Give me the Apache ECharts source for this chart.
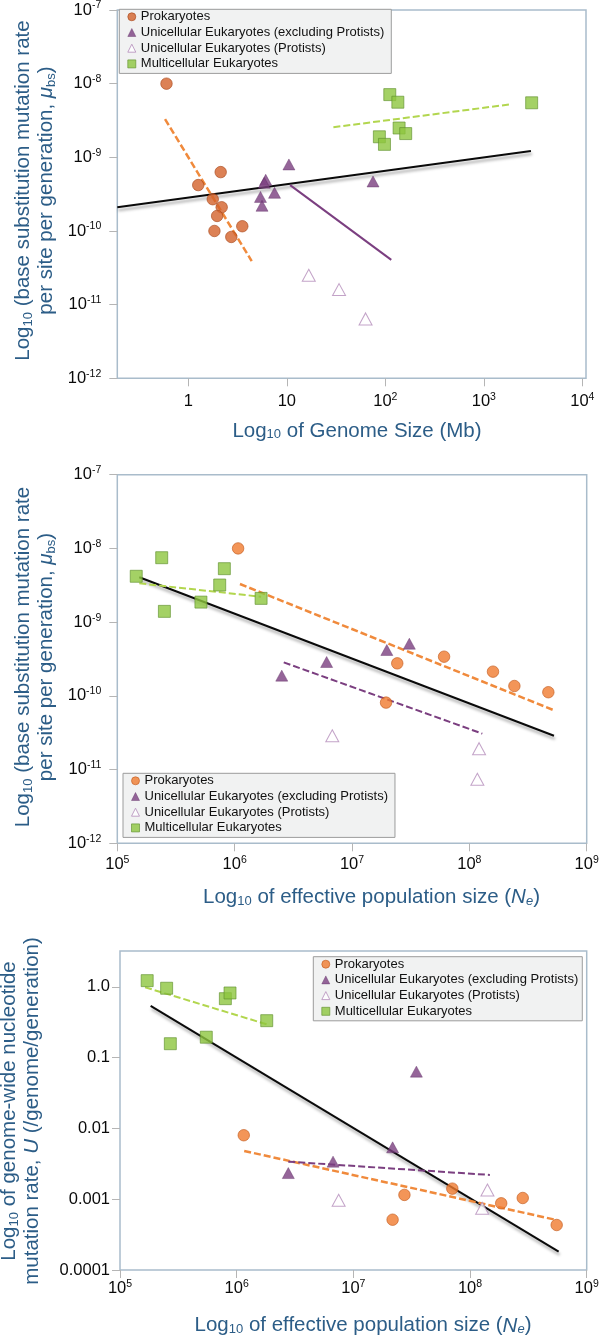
<!DOCTYPE html>
<html><head><meta charset="utf-8">
<script src="https://cdn.jsdelivr.net/npm/echarts@6/dist/echarts.min.js"></script>
<style>html,body{margin:0;padding:0;background:#fff}#c{width:604px;height:1336px}</style>
</head><body><div id="c"></div>
<script>
const seriesNames = ['Prokaryotes','Unicellular Eukaryotes (excluding Protists)','Unicellular Eukaryotes (Protists)','Multicellular Eukaryotes'];

// Panel 1: genome size (Mb) vs base substitution mutation rate
const p1Prok  = [[0.60,1.0e-8],[1.26,4.2e-10],[2.13,6.3e-10],[1.77,2.7e-10],[2.18,2.1e-10],[1.96,1.6e-10],[1.84,1.0e-10],[2.73,8.3e-11],[3.53,1.16e-10]];
const p1Uni   = [[10.5,8.0e-10],[6.1,4.95e-10],[5.9,4.5e-10],[7.5,3.3e-10],[5.4,2.9e-10],[5.6,2.2e-10],[75,4.7e-10]];
const p1Prot  = [[16.7,2.5e-11],[33.9,1.6e-11],[63,6.4e-12]];
const p1Multi = [[111,7.1e-9],[134,5.6e-9],[3060,5.5e-9],[138,2.5e-9],[161,2.1e-9],[87,1.9e-9],[98,1.5e-9]];
const p1FitAll   = [[0.19,2.1e-10],[3010,1.22e-9]];
const p1FitProk  = [[0.58,3.3e-9],[4.4,3.9e-11]];
const p1FitUni   = [[10.8,4.2e-10],[115,4.05e-11]];
const p1FitMulti = [[29.7,2.56e-9],[1880,5.25e-9]];

// Panel 2: effective population size vs base substitution mutation rate
const p2Prok  = [[1.07e6,1.0e-8],[2.43e7,2.76e-10],[6.09e7,3.4e-10],[1.95e7,8.1e-11],[1.59e8,2.13e-10],[2.42e8,1.36e-10],[4.71e8,1.12e-10]];
const p2Uni   = [[2.52e6,1.88e-10],[6.08e6,2.88e-10],[1.98e7,4.19e-10],[3.08e7,5.1e-10]];
const p2Prot  = [[6.79e6,2.88e-11],[1.21e8,1.92e-11],[1.17e8,7.4e-12]];
const p2Multi = [[1.45e5,4.19e-9],[2.39e5,7.48e-9],[2.52e5,1.4e-9],[5.16e5,1.87e-9],[7.46e5,3.19e-9],[8.17e5,5.31e-9],[1.68e6,2.1e-9]];
const p2FitAll   = [[1.54e5,4.06e-9],[5.26e8,2.88e-11]];
const p2FitProk  = [[1.11e6,3.29e-9],[5.19e8,6.43e-11]];
const p2FitUni   = [[2.62e6,2.85e-10],[1.29e8,3.07e-11]];
const p2FitMulti = [[1.54e5,3.36e-9],[1.68e6,2.21e-9]];

// Panel 3: effective population size vs genome-wide mutation rate U
const p3Prok  = [[1.15e6,0.0080],[2.74e7,0.00115],[2.17e7,0.000513],[7.05e7,0.00141],[1.85e8,0.000875],[2.83e8,0.00104],[5.53e8,0.000432]];
const p3Uni   = [[2.77e6,0.00234],[6.70e6,0.00339],[2.17e7,0.0054],[3.47e7,0.0633]];
const p3Prot  = [[7.48e6,0.000966],[1.41e8,0.00135],[1.27e8,0.000743]];
const p3Multi = [[1.71e5,1.22],[2.51e5,0.953],[2.70e5,0.157],[5.49e5,0.194],[8.0e5,0.679],[8.77e5,0.817],[1.81e6,0.332]];
const p3FitAll   = [[1.83e5,0.536],[5.75e8,0.000182]];
const p3FitProk  = [[1.16e6,0.0048],[5.53e8,0.000508]];
const p3FitUni   = [[2.77e6,0.00339],[1.48e8,0.0022]];
const p3FitMulti = [[1.64e5,0.984],[1.81e6,0.295]];

// Tick values / labels
const p1XTicks = [1,10,100,1000,10000];
const muTicks  = [1e-12,1e-11,1e-10,1e-9,1e-8,1e-7];
const neTicks  = [1e5,1e6,1e7,1e8,1e9];
const uTicks   = [0.0001,0.001,0.01,0.1,1];
const uTickLabels = ['0.0001','0.001','0.01','0.1','1.0'];

// Axis titles (rich text)
const p1XTitle = '{n|Log}{sub|10}{n| of Genome Size (Mb)}';
const muTitle  = '{n|Log}{sub|10}{n| (base substitution mutation rate}\n{n|per site per generation, }{i|μ}{sub|bs}{n|)}';
const neTitle  = '{n|Log}{sub|10}{n| of effective population size (}{i|N}{isub|e}{n|)}';
const uTitle   = '{n|Log}{sub|10}{n| of genome-wide nucleotide}\n{n|mutation rate, }{i|U}{n| (/genome/generation)}';

const FONT = '"Liberation Sans", Arial, Helvetica, sans-serif';
const TITLE = '#2c5d87';
const FRAME = '#a9bccb';
const TICKC = '#b5b5b5';

function powLabel(v){
  const e = Math.round(Math.log10(v));
  if (e === 0) return '{b|1}';
  if (e === 1) return '{b|10}';
  return '{b|10}{s|' + e + '}';
}
function uLabel(v){
  const i = uTicks.findIndex(t => Math.abs(Math.log10(t) - Math.log10(v)) < 1e-6);
  return '{b|' + (i >= 0 ? uTickLabels[i] : v) + '}';
}
const tickRich = {
  b:{fontSize:16.5, lineHeight:20, color:'#0a0a0a', fontFamily:FONT},
  s:{fontSize:10.5, lineHeight:10, verticalAlign:'top', color:'#0a0a0a', fontFamily:FONT}
};
function nameRich(lh){
  return {
    n:{fontSize:20.5, lineHeight:lh, fill:TITLE, color:TITLE, fontFamily:FONT},
    sub:{fontSize:13, lineHeight:7, verticalAlign:'bottom', fill:TITLE, color:TITLE, fontFamily:FONT},
    i:{fontSize:20.5, lineHeight:lh, fontStyle:'italic', fill:TITLE, color:TITLE, fontFamily:FONT},
    isub:{fontSize:13, lineHeight:7, verticalAlign:'bottom', fontStyle:'italic', fill:TITLE, color:TITLE, fontFamily:FONT}
  };
}

function axisCfg(gi, min, max, ticks, fmt, labelMargin){
  return {
    gridIndex:gi, type:'log', logBase:10, min, max,
    axisLine:{show:false},
    axisTick:{show:true, customValues:ticks, length:8, lineStyle:{color:TICKC, width:1}},
    axisLabel:{customValues:ticks, formatter:fmt, rich:tickRich, margin:labelMargin},
    splitLine:{show:false}, minorTick:{show:false}
  };
}

const PURPLE = '#7b3f80';
const PROT = '#b48cba';
const GREEN = '#8dc63f', GREEN_B = '#5f8f2c';
function styles(orange, orangeB){
  return [
    {symbol:'circle', size:11.5, style:{color:orange, borderColor:orangeB, borderWidth:0.8}},
    {symbol:'triangle', size:[12,11], style:{color:PURPLE, borderColor:'#5e2d63', borderWidth:0.5}},
    {symbol:'triangle', size:[13,12], style:{color:'#ffffff', borderColor:PROT, borderWidth:1}},
    {symbol:'rect', size:12, style:{color:GREEN, borderColor:GREEN_B, borderWidth:0.8}}
  ];
}
const panelStyles = [styles('#d3612a','#a8481c'), styles('#f07b2e','#c25a1c'), styles('#f07b2e','#c25a1c')];

function scatter(name, data, gi, st){
  return {type:'scatter', name, data, xAxisIndex:gi, yAxisIndex:gi, symbol:st.symbol, symbolSize:st.size,
    itemStyle:st.style, z:5, emphasis:{disabled:true}, silent:true};
}
function fit(data, gi, color, type, width, shadow){
  const ls = {color, width, type};
  if (shadow){ ls.shadowColor='rgba(0,0,0,0.35)'; ls.shadowBlur=3; ls.shadowOffsetY=3; ls.shadowOffsetX=1; }
  return {type:'line', data, xAxisIndex:gi, yAxisIndex:gi, showSymbol:false, symbol:'none',
    lineStyle:ls, z:3, silent:true, emphasis:{disabled:true}};
}

function legendCfg(left, top, st, padRight){
  return {
    left, top, orient:'vertical', itemWidth:8, itemHeight:8, itemGap:2.7,
    padding:[1,padRight,3,8], backgroundColor:'#f1f2f2', borderColor:'#9c9c9c', borderWidth:1,
    selectedMode:false,
    textStyle:{fontSize:13, lineHeight:13, color:'#111', fontFamily:FONT},
    data: seriesNames.map((n,i)=>({name:n, icon:st[i].symbol, itemStyle:st[i].style}))
  };
}

function titleText(text, x, y, rotated, lh){
  return {
    type:'text', x, y, rotation: rotated ? Math.PI/2 : 0, silent:true, z:10,
    style:{text, rich:nameRich(lh), align:'center', verticalAlign:'middle', fill:TITLE,
      fontSize:20.5, fontFamily:FONT}
  };
}

const panels = [
  {prok:p1Prok, uni:p1Uni, prot:p1Prot, multi:p1Multi, all:p1FitAll, fProk:p1FitProk, fUni:p1FitUni, fMulti:p1FitMulti, uniDash:'solid'},
  {prok:p2Prok, uni:p2Uni, prot:p2Prot, multi:p2Multi, all:p2FitAll, fProk:p2FitProk, fUni:p2FitUni, fMulti:p2FitMulti, uniDash:[7,3]},
  {prok:p3Prok, uni:p3Uni, prot:p3Prot, multi:p3Multi, all:p3FitAll, fProk:p3FitProk, fUni:p3FitUni, fMulti:p3FitMulti, uniDash:[7,3]}
];
const series = [];
panels.forEach((p, gi) => {
  const st = panelStyles[gi];
  series.push(fit(p.all, gi, '#0a0a0a', 'solid', 2, true));
  series.push(fit(p.fProk, gi, '#f08a3c', [7,3], 2.5, false));
  series.push(fit(p.fUni, gi, PURPLE, p.uniDash, 2, false));
  series.push(fit(p.fMulti, gi, '#b2d64e', [7,3], 2, false));
  series.push(scatter(seriesNames[0], p.prok, gi, st[0]));
  series.push(scatter(seriesNames[1], p.uni, gi, st[1]));
  series.push(scatter(seriesNames[2], p.prot, gi, st[2]));
  series.push(scatter(seriesNames[3], p.multi, gi, st[3]));
});

const gridCommon = {show:true, borderColor:FRAME, borderWidth:1.5, backgroundColor:'transparent', containLabel:false};
const option = {
  animation:false,
  backgroundColor:'#ffffff',
  textStyle:{fontFamily:FONT},
  grid:[
    Object.assign({left:117.3, top:7.3, width:468.7, height:371}, gridCommon),
    Object.assign({left:117.3, top:474.7, width:469.4, height:368.6}, gridCommon),
    Object.assign({left:120, top:951, width:466.7, height:319}, gridCommon)
  ],
  xAxis:[
    axisCfg(0, 0.19, 10900, p1XTicks, powLabel, 13),
    axisCfg(1, 1e5, 1e9, neTicks, powLabel, 11),
    axisCfg(2, 1e5, 1e9, neTicks, powLabel, 8.5)
  ],
  yAxis:[
    axisCfg(0, 1e-12, 1e-7, muTicks, powLabel, 16),
    axisCfg(1, 1e-12, 1e-7, muTicks, powLabel, 16),
    axisCfg(2, 1e-4, 3.2, uTicks, uLabel, 10)
  ],
  legend:[
    legendCfg(119.3, 9.3, panelStyles[0], 7),
    legendCfg(123, 773.3, panelStyles[1], 7),
    legendCfg(313.3, 956.7, panelStyles[2], 4)
  ],
  graphic:[
    titleText(p1XTitle, 357, 431, false, 20),
    titleText(neTitle, 371.5, 897.5, false, 20),
    titleText(neTitle, 363, 1325.8, false, 20),
    titleText(muTitle, 35, 190.5, true, 23),
    titleText(muTitle, 35, 657, true, 23),
    titleText(uTitle, 21, 1111, true, 22.5)
  ],
  series
};
const chart = echarts.init(document.getElementById('c'), null, {renderer:'canvas'});
chart.setOption(option);
</script>
</body></html>
